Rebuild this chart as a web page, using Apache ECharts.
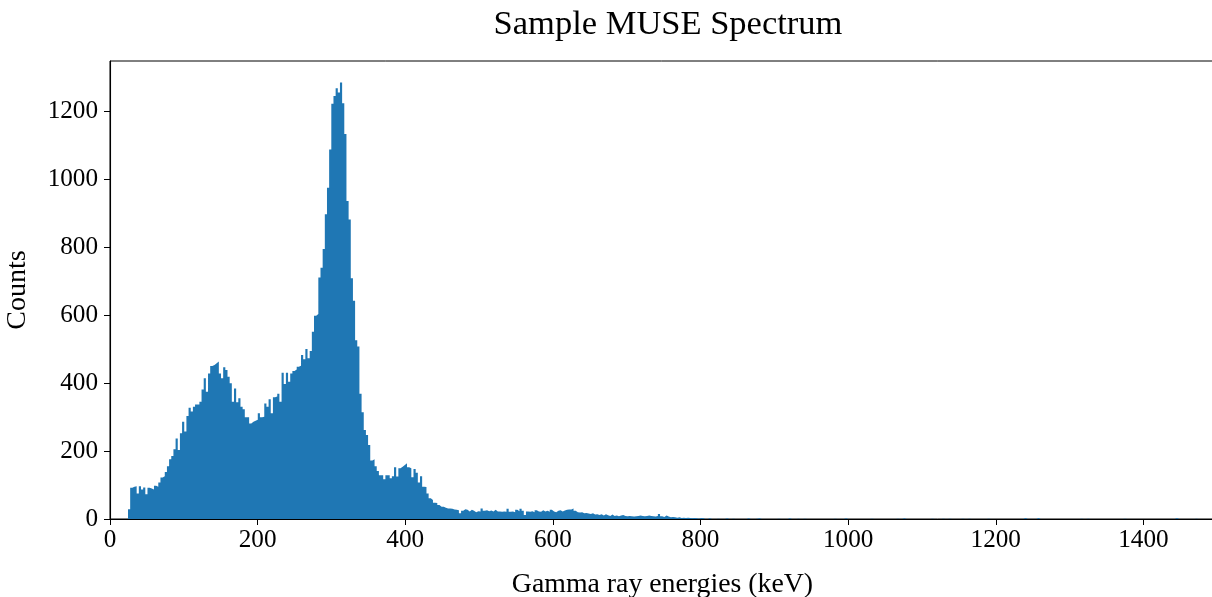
<!DOCTYPE html>
<html>
<head>
<meta charset="utf-8">
<script src="https://cdn.jsdelivr.net/npm/echarts@6/dist/echarts.min.js"></script>
<style>
html,body{margin:0;padding:0;background:#fff;}
#chart{width:1212px;height:597px;}
</style>
</head>
<body>
<div id="chart"></div>
<script>
// Histogram binning (keV)
const binStart = 24.4;
const binWidth = 2.93;

// Counts per bin (bins 0..264)
const countsMain = [
  29, 92, 95, 96, 75, 96, 87, 93, 73, 92,
  90, 87, 98, 95, 107, 122, 126, 138, 155, 176,
  185, 205, 237, 203, 252, 286, 257, 303, 327, 316,
  330, 337, 337, 345, 381, 414, 374, 428, 450, 453,
  458, 463, 428, 414, 446, 438, 418, 399, 345, 384,
  343, 355, 330, 323, 299, 299, 281, 286, 289, 292,
  311, 299, 301, 340, 330, 352, 311, 358, 360, 368,
  345, 430, 397, 430, 404, 428, 435, 440, 448, 451,
  482, 470, 500, 473, 494, 551, 598, 603, 710, 739,
  794, 896, 974, 1087, 1221, 1244, 1267, 1254, 1284, 1223,
  1132, 935, 881, 708, 642, 526, 507, 368, 314, 262,
  247, 218, 172, 176, 155, 141, 129, 129, 117, 129,
  129, 120, 126, 152, 125, 149, 154, 159, 164, 152,
  149, 123, 147, 136, 107, 126, 95, 94, 75, 61,
  56, 48, 47, 41, 36, 36, 33, 31, 31, 30,
  28, 27, 26, 17, 24, 29, 27, 22, 27, 24,
  20, 23, 22, 31, 24, 26, 23, 25, 22, 27,
  22, 22, 21, 22, 21, 30, 21, 22, 20, 27,
  23, 30, 24, 12, 22, 21, 23, 20, 26, 22,
  21, 26, 22, 24, 21, 27, 22, 20, 24, 26,
  22, 25, 27, 28, 28, 31, 24, 20, 19, 20,
  17, 18, 16, 15, 17, 13, 14, 12, 14, 10,
  14, 11, 9, 13, 9, 10, 8, 10, 12, 9,
  8, 9, 8, 7, 8, 9, 10, 9, 8, 9,
  10, 9, 8, 7, 9, 15, 8, 6, 10, 7,
  5, 6, 5, 4, 5, 3, 4, 3, 4, 3,
  2, 3, 2, 1, 3
];

// Sparse high-energy tail (bins 265..499)
const countsTail = [
  2,0,0,2,0,0,0,1,0,0,
  0,2,0,0,1,0,0,0,0,0,
  0,2,0,0,0,1,2,0,0,0,
  0,0,0,0,0,1,0,0,0,0,
  2,0,0,0,1,0,0,1,0,0,
  0,0,0,0,0,0,0,0,0,0,
  0,1,0,0,0,0,2,0,0,0,
  0,0,0,0,0,0,0,0,1,0,
  0,0,0,0,0,0,0,0,0,0,
  1,0,0,2,0,0,0,0,0,0,
  0,0,0,0,0,0,1,0,0,0,
  0,1,0,0,1,0,0,0,0,0,
  1,0,0,1,0,0,0,0,0,0,
  0,0,1,0,0,0,0,0,0,0,
  0,0,0,0,0,0,0,0,0,3,
  0,0,0,0,0,3,0,0,0,0,
  0,0,0,0,0,0,0,0,0,0,
  0,0,0,0,0,1,0,0,1,0,
  0,0,0,0,0,0,0,0,0,0,
  0,0,0,0,0,1,0,0,0,0,
  0,0,0,0,0,0,0,0,0,0,
  0,0,0,0,0,0,0,0,0,3,
  0,0,0,0,0,0,0,0,1,0,
  0,0,0,0,0
];

const xTicks = [0, 200, 400, 600, 800, 1000, 1200, 1400];
const yTicks = [0, 200, 400, 600, 800, 1000, 1200];

const counts = countsMain.concat(countsTail);
// step outline: each bin's left edge with its count, then the last right edge
const stepData = counts.map((c, i) => [binStart + i * binWidth, c]);
stepData.push([binStart + counts.length * binWidth, 0]);

const FONT = "'Liberation Serif', 'Times New Roman', serif";
const chart = echarts.init(document.getElementById('chart'), null, {renderer: 'canvas'});

chart.setOption({
  animation: false,
  backgroundColor: '#fff',
  title: {
    text: 'Sample MUSE Spectrum',
    left: 663,
    textAlign: 'center',
    top: 2,
    textStyle: {fontFamily: FONT, fontSize: 34.5, fontWeight: 'normal', color: '#000'}
  },
  grid: {
    left: 110, top: 61, width: 1105, height: 458,
    outerBoundsMode: 'none',
    containLabel: false,
    show: true, borderColor: '#000', borderWidth: 1, backgroundColor: 'transparent'
  },
  xAxis: {
    type: 'value',
    z: 5,
    min: 0, max: 1497, interval: 200,
    name: 'Gamma ray energies (keV)',
    nameLocation: 'middle',
    nameGap: 52,
    nameTextStyle: {fontFamily: FONT, fontSize: 27.8, color: '#000'},
    axisLine: {show: true, onZero: false, lineStyle: {color: '#000', width: 1.1}},
    axisTick: {show: true, inside: false, length: 6, lineStyle: {color: '#000', width: 1}, customValues: xTicks},
    axisLabel: {fontFamily: FONT, fontSize: 25.2, color: '#000', margin: 9, customValues: xTicks,
      formatter: v => String(v)},
    splitLine: {show: false}
  },
  yAxis: {
    type: 'value',
    z: 5,
    min: 0, max: 1347, interval: 200,
    name: 'Counts',
    nameLocation: 'middle',
    nameRotate: 90,
    nameGap: 78,
    nameTextStyle: {fontFamily: FONT, fontSize: 28, color: '#000'},
    axisLine: {show: true, onZero: false, lineStyle: {color: '#000', width: 1.1}},
    axisTick: {show: true, inside: false, length: 6, lineStyle: {color: '#000', width: 1}, customValues: yTicks},
    axisLabel: {fontFamily: FONT, fontSize: 25.2, color: '#000', margin: 12, customValues: yTicks,
      formatter: v => String(v)},
    splitLine: {show: false}
  },
  series: [{
    type: 'line',
    step: 'end',
    data: stepData,
    symbol: 'none',
    clip: true,
    lineStyle: {width: 0, color: '#1f77b4'},
    areaStyle: {color: '#1f77b4', opacity: 1, origin: 'start'},
    z: 1
  }]
});
</script>
</body>
</html>
